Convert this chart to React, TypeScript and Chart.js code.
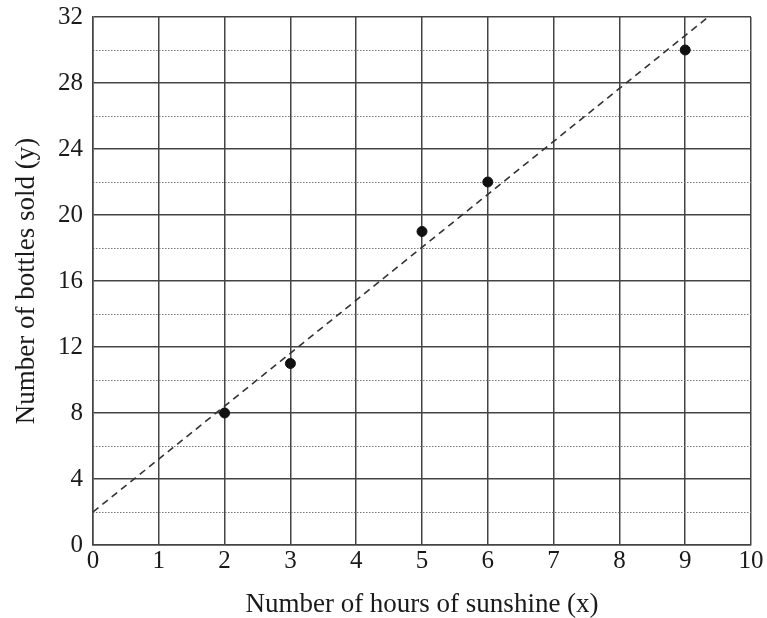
import React, { useEffect, useRef } from "react";
import { Chart, registerables } from "chart.js";

Chart.register(...registerables);

const hours = [2, 3, 5, 6, 9];
const bottles = [8, 11, 19, 22, 30];
const fitX = [0, 9.35];
const fitY = [2, 32];
const xTicks = [0, 1, 2, 3, 4, 5, 6, 7, 8, 9, 10];
const yTicks = [0, 4, 8, 12, 16, 20, 24, 28, 32];
const xTitle = "Number of hours of sunshine (x)";
const yTitle = "Number of bottles sold (y)";

const FONT = "'Liberation Serif', 'Times New Roman', serif";

export default function App() {
  const ref = useRef<HTMLCanvasElement | null>(null);

  useEffect(() => {
    document.body.style.margin = "0";
    const ctx = ref.current!.getContext("2d")!;
    const chart = new Chart(ctx, {
      type: "scatter",
      data: {
        datasets: [
          {
            type: "line",
            data: fitX.map((x, i) => ({ x, y: fitY[i] })),
            borderColor: "#333",
            borderWidth: 1.6,
            borderDash: [7, 5],
            pointRadius: 0,
            fill: false,
          },
          {
            type: "scatter",
            data: hours.map((x, i) => ({ x, y: bottles[i] })),
            backgroundColor: "#111",
            borderColor: "#111",
            pointRadius: 5,
          },
        ],
      },
      options: {
        animation: false,
        responsive: false,
        layout: { padding: { top: 17, right: 16, left: 0, bottom: 0 } },
        plugins: { legend: { display: false }, tooltip: { enabled: false } },
        scales: {
          x: {
            type: "linear",
            min: 0,
            max: 10,
            afterBuildTicks: (s: any) => {
              s.ticks = xTicks.map((v) => ({ value: v }));
            },
            afterFit: (s: any) => {
              s.height = 73;
              s.paddingLeft = 0;
              s.paddingRight = 0;
            },
            ticks: {
              color: "#1a1a1a",
              font: { family: FONT, size: 25 },
              padding: 1,
              maxRotation: 0,
            },
            grid: { color: "#444", lineWidth: 1.5, drawTicks: false },
            border: { color: "#444", width: 1.5 },
            title: {
              display: true,
              text: xTitle,
              color: "#1a1a1a",
              font: { family: FONT, size: 27 },
              padding: { top: 0, bottom: -3 },
            },
          },
          y: {
            type: "linear",
            min: 0,
            max: 32,
            afterBuildTicks: (s: any) => {
              s.ticks = yTicks.map((v) => ({ value: v }));
            },
            afterFit: (s: any) => {
              s.width = 93;
              s.paddingTop = 0;
              s.paddingBottom = 0;
            },
            ticks: {
              color: "#1a1a1a",
              font: { family: FONT, size: 25 },
              padding: 10,
            },
            grid: { color: "#444", lineWidth: 1.5, drawTicks: false },
            border: { color: "#444", width: 1.5 },
            title: {
              display: true,
              text: yTitle,
              color: "#1a1a1a",
              font: { family: FONT, size: 27 },
              padding: { top: 11, bottom: 0 },
            },
          },
          y2: {
            type: "linear",
            position: "left",
            min: 0,
            max: 32,
            ticks: { display: false, stepSize: 2 },
            afterFit: (s: any) => {
              s.width = 0;
              s.paddingTop = 0;
              s.paddingBottom = 0;
            },
            grid: {
              drawTicks: false,
              lineWidth: 1,
              color: (c: any) =>
                c.tick && c.tick.value % 4 === 0 ? "rgba(0,0,0,0)" : "#777",
            },
            border: { display: false, dash: [1.5, 1.5] },
          },
        },
      },
    } as any);
    return () => chart.destroy();
  }, []);

  return <canvas ref={ref} width={767} height={618} style={{ display: "block" }} />;
}
